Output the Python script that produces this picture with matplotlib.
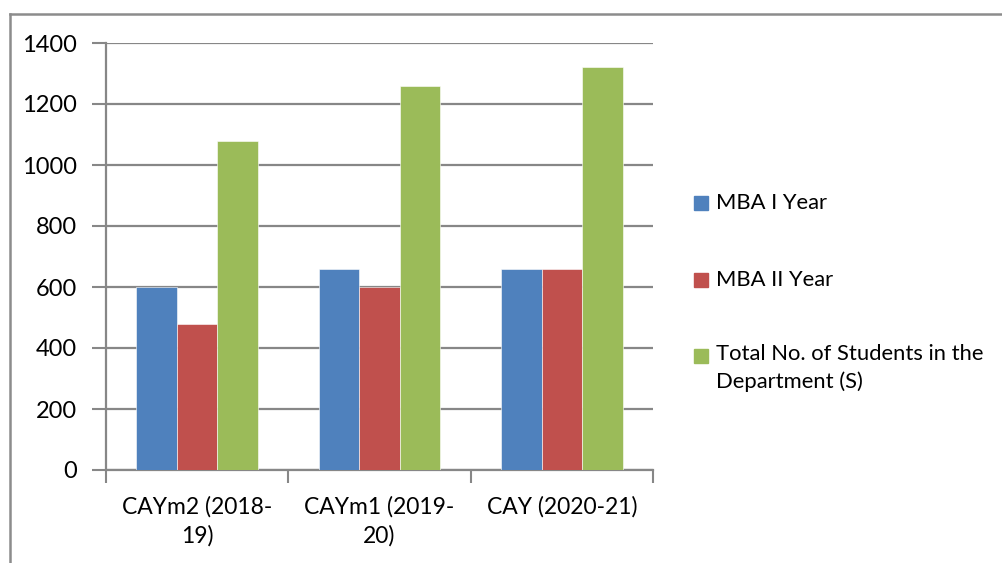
import matplotlib.pyplot as plt
import numpy as np
from matplotlib.lines import Line2D
from matplotlib.patches import Rectangle

plt.rcParams['font.family'] = ['Lato', 'DejaVu Sans']

years = ["CAYm2 (2018-\n19)", "CAYm1 (2019-\n20)", "CAY (2020-21)"]
series = ["MBA I Year", "MBA II Year", "Total No. of Students in the\nDepartment (S)"]
mba1 = [600, 660, 660]
mba2 = [480, 600, 660]
total = [1080, 1260, 1320]
colors = ["#4F81BD", "#C0504D", "#9BBB59"]
grid_col = "#878787"

fig = plt.figure(figsize=(10.02, 5.63), dpi=100)
ax = fig.add_axes([106/1002, 1 - 470/563, (653 - 106)/1002, (470 - 43)/563])

x = np.arange(len(years))
w = 0.222
for i, vals in enumerate([mba1, mba2, total]):
    ax.bar(x + (i - 1) * w, vals, width=w, color=colors[i], zorder=3,
           edgecolor="white", linewidth=0.4)

ax.set_xlim(-0.5, 2.5)
ax.set_ylim(0, 1400)
ax.set_yticks(range(0, 1401, 200))
ax.yaxis.grid(True, color=grid_col, linewidth=1.6, zorder=0)
ax.set_axisbelow(True)

ax.set_xticks(x)
ax.set_xticklabels(years, fontsize=16.5)
ax.set_xticks([-0.5, 0.5, 1.5, 2.5], minor=True)
ax.tick_params(axis='x', which='major', length=0, pad=19)
ax.tick_params(axis='x', which='minor', length=9, width=1.5, color=grid_col, direction='out')
ax.tick_params(axis='y', length=10, width=1.5, color=grid_col, pad=11, labelsize=17)
for lbl in ax.get_xticklabels():
    lbl.set_linespacing(1.42)

for s in ['top', 'right']:
    ax.spines[s].set_visible(False)
for s in ['left', 'bottom']:
    ax.spines[s].set_color(grid_col)
    ax.spines[s].set_linewidth(1.6)

# legend drawn by hand so the marker sits beside the first text line
leg_y = [203, 280, 356]
for c, name, yy in zip(colors, series, leg_y):
    fig.patches.append(Rectangle((694/1002, 1 - (yy + 7)/563), 14/1002, 14/563,
                                 transform=fig.transFigure, color=c))
    fig.text(716/1002, 1 - yy/563, name, fontsize=15.8, va='center' if '\n' not in name else 'top',
             linespacing=1.47)
# adjust multi-line label so first line aligns with its marker
fig.texts[-1].set_y(1 - (yy - 12)/563)

# chart frame
fig.add_artist(Line2D([10/1002, 10/1002], [0, 1 - 14/563], color="#8c8c8c", linewidth=1.8,
                      transform=fig.transFigure))
fig.add_artist(Line2D([10/1002, 1], [1 - 14/563, 1 - 14/563], color="#8c8c8c", linewidth=1.8,
                      transform=fig.transFigure))

fig.savefig("out.png", dpi=100)
